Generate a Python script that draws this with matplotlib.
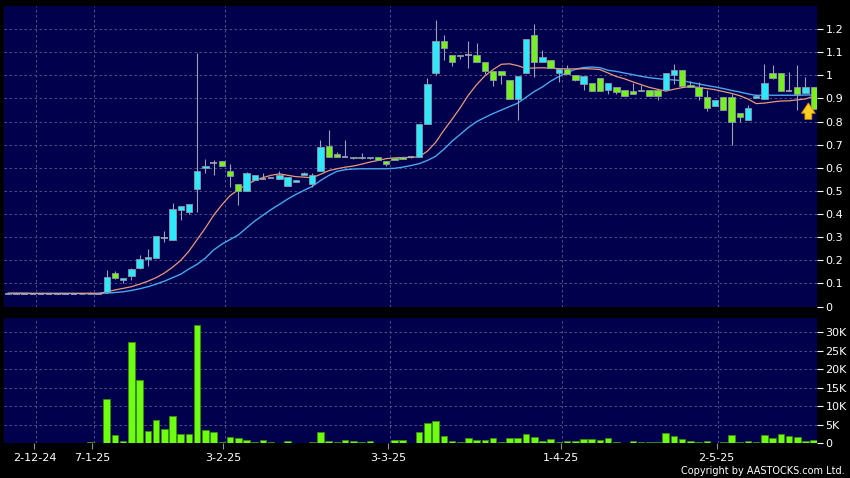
# AASTOCKS style daily candle chart with volume pane

import numpy as np
import matplotlib
matplotlib.use('Agg')
from matplotlib import pyplot as plt
from matplotlib.ticker import FuncFormatter


# price data, one row per trading bar
opens = [0.058, 0.056, 0.056, 0.056, 0.056, 0.056, 0.056, 0.056, 0.056, 0.055,
         0.054, 0.056, 0.062, 0.145, 0.113, 0.133, 0.165, 0.208, 0.211, 0.295,
         0.286, 0.419, 0.408, 0.508, 0.600, 0.620, 0.630, 0.586, 0.531, 0.499,
         0.548, 0.553, 0.555, 0.551, 0.520, 0.538, 0.570, 0.531, 0.587, 0.693,
         0.661, 0.649, 0.649, 0.648, 0.642, 0.649, 0.629, 0.642, 0.646, 0.645,
         0.646, 0.791, 1.012, 1.149, 1.087, 1.090, 1.090, 1.090, 1.058, 1.017,
         1.019, 0.981, 0.899, 1.012, 1.173, 1.058, 1.068, 1.012, 1.029, 1.000,
         0.961, 0.967, 0.988, 0.938, 0.950, 0.938, 0.932, 0.938, 0.938, 0.938,
         0.935, 1.000, 1.022, 0.957, 0.950, 0.906, 0.866, 0.906, 0.906, 0.837,
         0.808, 0.903, 0.899, 1.010, 1.010, 0.932, 0.950, 0.924, 0.950]
highs = [0.060, 0.056, 0.056, 0.056, 0.056, 0.056, 0.056, 0.056, 0.056, 0.055,
         0.064, 0.056, 0.159, 0.153, 0.125, 0.165, 0.221, 0.250, 0.304, 0.326,
         0.449, 0.434, 0.445, 1.098, 0.639, 0.635, 0.630, 0.617, 0.531, 0.581,
         0.570, 0.578, 0.555, 0.586, 0.560, 0.548, 0.582, 0.578, 0.720, 0.762,
         0.667, 0.720, 0.649, 0.665, 0.649, 0.649, 0.629, 0.642, 0.646, 0.648,
         0.791, 0.988, 1.241, 1.173, 1.087, 1.090, 1.150, 1.142, 1.058, 1.017,
         1.019, 0.981, 0.997, 1.159, 1.221, 1.110, 1.068, 1.030, 1.043, 1.000,
         0.996, 0.967, 0.988, 0.967, 0.950, 0.938, 0.967, 0.957, 0.938, 0.938,
         1.010, 1.050, 1.025, 0.975, 0.970, 0.935, 0.892, 0.906, 0.918, 0.837,
         0.870, 0.920, 1.050, 1.043, 1.010, 1.014, 1.043, 0.993, 0.950]
lows = [0.055, 0.056, 0.056, 0.056, 0.056, 0.056, 0.056, 0.056, 0.056, 0.053,
        0.054, 0.056, 0.060, 0.120, 0.100, 0.113, 0.163, 0.175, 0.211, 0.278,
        0.286, 0.375, 0.400, 0.408, 0.577, 0.567, 0.607, 0.516, 0.440, 0.499,
        0.548, 0.553, 0.555, 0.551, 0.520, 0.538, 0.570, 0.516, 0.587, 0.649,
        0.649, 0.649, 0.637, 0.637, 0.637, 0.632, 0.607, 0.632, 0.638, 0.642,
        0.646, 0.791, 1.000, 1.065, 1.040, 1.070, 1.030, 1.058, 1.005, 0.952,
        0.964, 0.899, 0.808, 1.012, 0.993, 1.058, 1.033, 0.971, 1.004, 0.975,
        0.938, 0.932, 0.932, 0.921, 0.920, 0.909, 0.921, 0.932, 0.909, 0.892,
        0.935, 0.964, 0.952, 0.950, 0.895, 0.848, 0.866, 0.851, 0.701, 0.798,
        0.808, 0.903, 0.899, 0.985, 0.932, 0.932, 0.851, 0.924, 0.856]
closes = [0.056, 0.056, 0.056, 0.056, 0.056, 0.056, 0.056, 0.056, 0.056, 0.054,
          0.056, 0.056, 0.130, 0.125, 0.124, 0.163, 0.205, 0.215, 0.304, 0.295,
          0.423, 0.434, 0.445, 0.587, 0.610, 0.620, 0.607, 0.563, 0.499, 0.578,
          0.570, 0.553, 0.555, 0.570, 0.560, 0.548, 0.579, 0.568, 0.691, 0.649,
          0.649, 0.649, 0.642, 0.642, 0.649, 0.632, 0.617, 0.632, 0.640, 0.645,
          0.791, 0.961, 1.149, 1.120, 1.058, 1.082, 1.090, 1.058, 1.019, 0.981,
          1.000, 0.899, 0.997, 1.159, 1.058, 1.079, 1.033, 1.029, 1.004, 0.981,
          0.996, 0.932, 0.932, 0.967, 0.928, 0.909, 0.921, 0.932, 0.909, 0.909,
          1.010, 1.022, 0.952, 0.950, 0.909, 0.860, 0.892, 0.851, 0.798, 0.819,
          0.860, 0.909, 0.967, 0.990, 0.932, 0.932, 0.921, 0.950, 0.856]

# moving averages as drawn (orange = short, blue = long)
ma_short = [0.058, 0.058, 0.058, 0.057, 0.057, 0.057, 0.057, 0.057, 0.057, 0.057,
            0.057, 0.057, 0.064, 0.072, 0.079, 0.086, 0.097, 0.110, 0.125, 0.145,
            0.170, 0.200, 0.240, 0.290, 0.340, 0.395, 0.440, 0.480, 0.505, 0.528,
            0.545, 0.558, 0.568, 0.574, 0.568, 0.562, 0.560, 0.557, 0.572, 0.588,
            0.596, 0.603, 0.608, 0.616, 0.625, 0.632, 0.640, 0.643, 0.645, 0.645,
            0.648, 0.672, 0.710, 0.762, 0.810, 0.860, 0.915, 0.960, 0.998, 1.025,
            1.048, 1.050, 1.042, 1.030, 1.032, 1.033, 1.031, 1.029, 1.028, 1.028,
            1.029, 1.028, 1.025, 1.010, 0.995, 0.985, 0.972, 0.960, 0.948, 0.940,
            0.932, 0.940, 0.947, 0.952, 0.948, 0.943, 0.938, 0.930, 0.922, 0.912,
            0.898, 0.878, 0.880, 0.885, 0.889, 0.890, 0.894, 0.898, 0.910]
ma_long = [0.057, 0.057, 0.057, 0.057, 0.057, 0.057, 0.057, 0.057, 0.057, 0.057,
           0.057, 0.057, 0.058, 0.061, 0.064, 0.070, 0.077, 0.086, 0.097, 0.110,
           0.125, 0.140, 0.163, 0.183, 0.210, 0.245, 0.270, 0.290, 0.310, 0.340,
           0.370, 0.395, 0.420, 0.442, 0.465, 0.485, 0.503, 0.520, 0.545, 0.567,
           0.585, 0.592, 0.595, 0.596, 0.596, 0.596, 0.596, 0.598, 0.603, 0.610,
           0.618, 0.632, 0.650, 0.680, 0.715, 0.745, 0.775, 0.800, 0.818, 0.835,
           0.850, 0.865, 0.880, 0.905, 0.930, 0.950, 0.975, 0.995, 1.012, 1.026,
           1.034, 1.036, 1.033, 1.022, 1.017, 1.010, 1.003, 0.996, 0.990, 0.986,
           0.982, 0.980, 0.977, 0.970, 0.963, 0.956, 0.950, 0.943, 0.935, 0.928,
           0.920, 0.913, 0.915, 0.914, 0.914, 0.914, 0.914, 0.915, 0.916]

# volume in thousands of shares
volume_k = [0.2, 0, 0, 0, 0, 0, 0, 0, 0, 0,
            0.45, 0, 11.9, 2.2, 0.6, 27.2, 17.1, 3.4, 6.3, 3.95,
            7.45, 2.6, 2.6, 31.8, 3.7, 3.2, 0.5, 1.6, 1.45, 0.9,
            0.45, 0.9, 0.27, 0.1, 0.6, 0.05, 0.05, 0.35, 3.0, 0.6,
            0.27, 0.9, 0.55, 0.3, 0.55, 0.05, 0.2, 0.8, 0.8, 0.2,
            3.2, 5.45, 6.1, 2.05, 0.7, 0.45, 1.4, 0.9, 0.9, 1.35,
            0.35, 1.5, 1.4, 2.5, 1.6, 0.7, 1.15, 0.45, 0.6, 0.55,
            1.25, 1.25, 0.8, 1.35, 0.45, 0.2, 0.6, 0.27, 0.27, 0.45,
            2.75, 1.95, 1.15, 0.6, 0.45, 0.55, 0.05, 0.35, 2.25, 0.27,
            0.6, 0.35, 2.25, 1.45, 2.6, 1.95, 1.7, 0.7, 0.8]

date_labels = ['2-12-24', '7-1-25', '3-2-25', '3-3-25', '1-4-25', '2-5-25']
date_index = [3, 10, 26, 46, 67, 86]

price_ticks = [0, 0.1, 0.2, 0.3, 0.4, 0.5, 0.6, 0.7, 0.8, 0.9, 1.0, 1.1, 1.2]
vol_ticks_k = [0, 5, 10, 15, 20, 25, 30]

NAVY = '#00004c'
UP = '#2ee8ff'
DOWN = '#78f020'
GRID = '#5c5c8e'

plt.rcParams['font.family'] = ['DejaVu Sans']

fig = plt.figure(figsize=(8.5, 4.78), dpi=100, facecolor='black')
W, H = 850.0, 478.0
ax = fig.add_axes([4 / W, 1 - 306.6 / H, 813 / W, 300.6 / H], facecolor=NAVY)
axv = fig.add_axes([4 / W, 1 - 443.4 / H, 813 / W, 125.2 / H], facecolor=NAVY)

n = len(closes)
xs = np.arange(n)
for a in (ax, axv):
    a.set_xlim(-0.5, 98.4)
    for s in a.spines.values():
        s.set_visible(False)
    for d in date_index:
        a.axvline(d + 0.4, color=GRID, lw=0.6, ls=(0, (3, 3)), zorder=0)

# --- price pane ---
for p in price_ticks[1:]:
    ax.axhline(p, color=GRID, lw=0.6, ls=(0, (3, 3)), zorder=0)

ax.plot(xs, ma_long, color='#4aa6ee', lw=1.0, zorder=2)
ax.plot(xs, ma_short, color='#e89a78', lw=0.9, zorder=2)

bw = 0.78
for i in range(n):
    o, h, l, c = opens[i], highs[i], lows[i], closes[i]
    ax.vlines(i, l, h, color='#a0a0b4', lw=0.8, zorder=3)
    if abs(c - o) < 1e-9:
        ax.hlines(o, i - bw / 2, i + bw / 2, color='#a8a8b8', lw=1.2, zorder=4)
    else:
        col = UP if c > o else DOWN
        ax.bar(i, abs(c - o), bottom=min(o, c), width=bw, color=col,
               edgecolor='#8c96a8', lw=0.6, zorder=4)

# yellow marker arrow on the last bar
ax.annotate('', xy=(97.35, 0.893), xytext=(97.35, 0.798),
            arrowprops=dict(arrowstyle='simple,head_width=1.0,head_length=0.75,tail_width=0.5',
                            fc='#ffcc22', ec='#c88a00', lw=0.6), zorder=6)

ax.set_ylim(0, 1.3)
ax.set_yticks(price_ticks)
ax.yaxis.set_major_formatter(FuncFormatter(lambda v, p: f'{round(v, 2):g}'))
ax.yaxis.tick_right()
ax.tick_params(axis='y', colors='white', length=4, width=0.8, pad=2, labelsize=8)
ax.tick_params(axis='x', length=0, labelbottom=False)

# --- volume pane ---
for v in vol_ticks_k[1:]:
    axv.axhline(v * 1000, color=GRID, lw=0.6, ls=(0, (3, 3)), zorder=0)
axv.bar(xs, np.array(volume_k) * 1000, width=0.8, color='#6cff10',
        edgecolor='#3c8c10', lw=0.6, zorder=3)
axv.set_ylim(0, 33700)
axv.set_yticks([v * 1000 for v in vol_ticks_k])
axv.set_yticklabels([f'{v}K' if v else '0' for v in vol_ticks_k])
axv.yaxis.tick_right()
axv.tick_params(axis='y', colors='white', length=4, width=0.8, pad=2, labelsize=8)
axv.set_xticks([d + 0.2 for d in date_index])
axv.set_xticklabels(date_labels)
axv.tick_params(axis='x', colors='#9090a0', labelcolor='white', length=4,
                width=0.8, pad=3, labelsize=8)

fig.text(845 / W, 1 - 471 / H, 'Copyright by AASTOCKS.com Ltd.', ha='right',
         va='center', color='white', fontsize=7,
         family=['Liberation Sans Narrow', 'DejaVu Sans'])

fig.savefig('out.png', dpi=100, facecolor='black')
